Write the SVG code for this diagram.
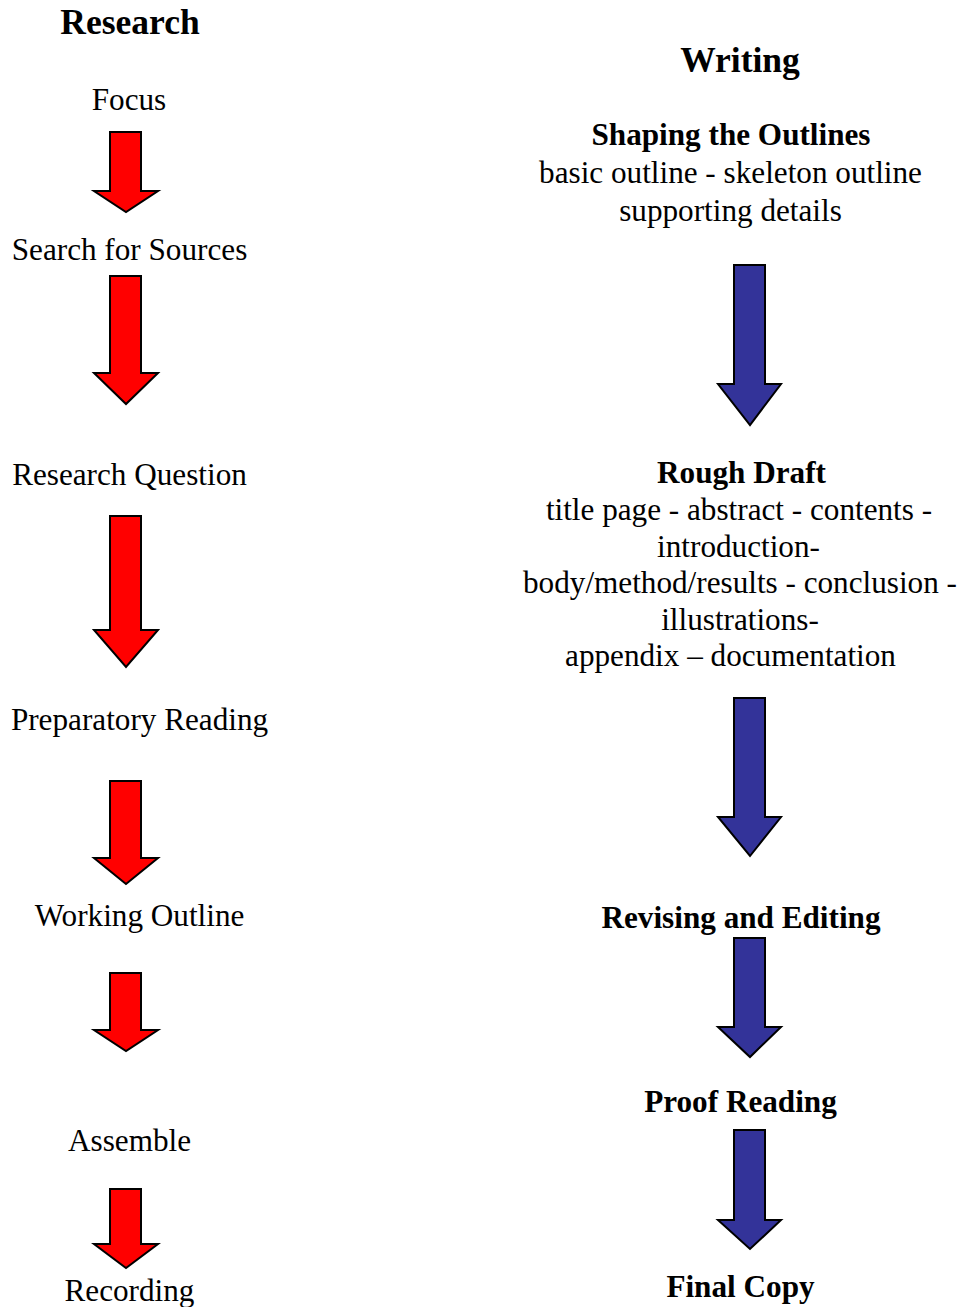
<svg xmlns="http://www.w3.org/2000/svg" width="965" height="1307" viewBox="0 0 965 1307">
<style>
text{font-family:"Liberation Serif","Times New Roman",serif;fill:#000;text-anchor:middle}
.t{font-size:31.2px}
.b{font-size:31.2px;font-weight:bold}
.h{font-size:35.5px;font-weight:bold}
.red{fill:#FF0000;stroke:#000;stroke-width:2;stroke-linejoin:miter}
.blue{fill:#333399;stroke:#000;stroke-width:2;stroke-linejoin:miter}
</style>
<rect width="965" height="1307" fill="#fff"/>
<g id="connectors">
<path class="red" d="M110,132 H141 V191 H158 L126,212 L94,191 H110 Z"/>
<path class="red" d="M110,276 H141 V373 H158 L126,404 L94,373 H110 Z"/>
<path class="red" d="M110,516 H141 V630 H158 L126,667 L94,630 H110 Z"/>
<path class="red" d="M110,781 H141 V858 H158 L126,884 L94,858 H110 Z"/>
<path class="red" d="M110,973 H141 V1030 H158 L126,1051 L94,1030 H110 Z"/>
<path class="red" d="M110,1189 H141 V1244 H158 L126,1268 L94,1244 H110 Z"/>
<path class="blue" d="M734,265 H765 V384 H781 L750,425 L718,384 H734 Z"/>
<path class="blue" d="M734,698 H765 V817 H781 L750,856 L718,817 H734 Z"/>
<path class="blue" d="M734,938 H765 V1027 H781 L750,1057 L718,1027 H734 Z"/>
<path class="blue" d="M734,1130 H765 V1220 H781 L750,1249 L718,1220 H734 Z"/>
</g>
<g id="research-title"><text class="h" x="130" y="34">Research</text></g>
<g id="focus"><text class="t" x="129" y="110">Focus</text></g>
<g id="search"><text class="t" x="129.5" y="260">Search for Sources</text></g>
<g id="question"><text class="t" x="129.5" y="485">Research Question</text></g>
<g id="preparatory"><text class="t" x="139.5" y="730">Preparatory Reading</text></g>
<g id="working"><text class="t" x="139.5" y="926">Working Outline</text></g>
<g id="assemble"><text class="t" x="129.5" y="1151">Assemble</text></g>
<g id="recording"><text class="t" x="129.5" y="1301">Recording</text></g>
<g id="writing-title"><text class="h" x="740" y="72">Writing</text></g>
<g id="shaping">
<text class="b" x="731" y="145">Shaping the Outlines</text>
<text class="t" x="730.5" y="183">basic outline - skeleton outline</text>
<text class="t" x="730.5" y="221">supporting details</text>
</g>
<g id="rough">
<text class="b" x="741.5" y="483">Rough Draft</text>
<text class="t" x="739" y="520">title page - abstract - contents -</text>
<text class="t" x="738.5" y="557">introduction-</text>
<text class="t" x="740" y="593">body/method/results - conclusion -</text>
<text class="t" x="740" y="630">illustrations-</text>
<text class="t" x="730.5" y="666">appendix – documentation</text>
</g>
<g id="revising"><text class="b" x="741" y="928">Revising and Editing</text></g>
<g id="proof"><text class="b" x="740.5" y="1112">Proof Reading</text></g>
<g id="final"><text class="b" x="740.5" y="1297">Final Copy</text></g>
</svg>
